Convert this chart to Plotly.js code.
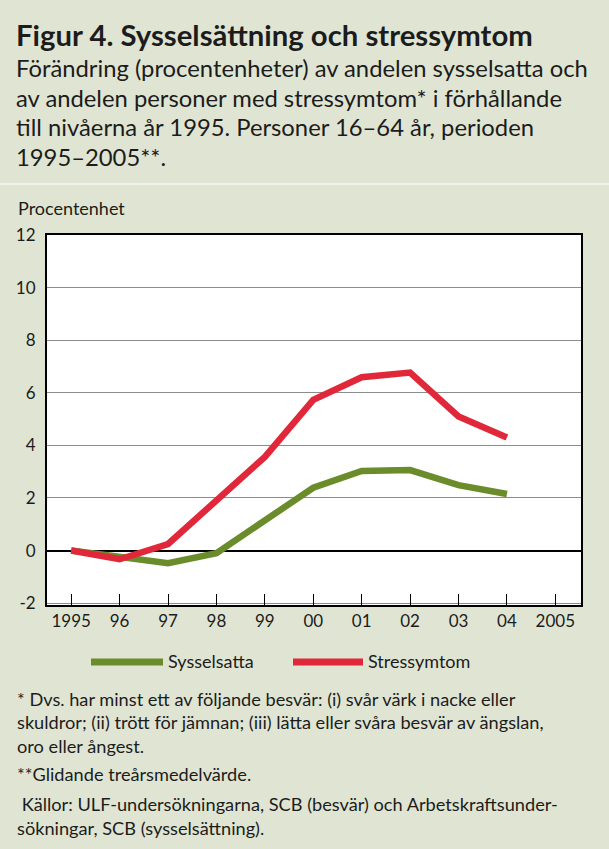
<!DOCTYPE html>
<html>
<head>
<meta charset="utf-8">
<script src="https://cdn.plot.ly/plotly-3.0.1.min.js"></script>
<style>
  html, body { margin: 0; padding: 0; background: #e0e5d3; }
  #chart { width: 609px; height: 849px; }
</style>
</head>
<body>
<div id="chart"></div>
<script>
// ---- Data ----
const years = [1995, 1996, 1997, 1998, 1999, 2000, 2001, 2002, 2003, 2004];
const sysselsatta = [0, -0.23, -0.48, -0.1, 1.16, 2.39, 3.03, 3.06, 2.49, 2.15];
const stressymtom = [0, -0.33, 0.25, 1.92, 3.56, 5.73, 6.59, 6.77, 5.1, 4.3];
const seriesNames = ["Sysselsatta", "Stressymtom"];
const xTickVals = [1995, 1996, 1997, 1998, 1999, 2000, 2001, 2002, 2003, 2004, 2005];
const xTickText = ["1995", "96", "97", "98", "99", "00", "01", "02", "03", "04", "2005"];
const yTickVals = [-2, 0, 2, 4, 6, 8, 10, 12];
const yTickText = ["-2", "0", "2", "4", "6", "8", "10", "12"];

const titleText = "Figur 4. Sysselsättning och stressymtom";
const subtitleLines = [
  "Förändring (procentenheter) av andelen sysselsatta och",
  "av andelen personer med stressymtom* i förhållande",
  "till nivåerna år 1995. Personer 16–64 år, perioden",
  "1995–2005**."
];
const yAxisLabel = "Procentenhet";
const footnoteLines = [
  "* Dvs. har minst ett av följande besvär: (i) svår värk i nacke eller",
  "skuldror; (ii) trött för jämnan; (iii) lätta eller svåra besvär av ängslan,",
  "oro eller ångest.",
  "**Glidande treårsmedelvärde.",
  " Källor: ULF-undersökningarna, SCB (besvär) och Arbetskraftsunder-",
  "sökningar, SCB (sysselsättning)."
];

// ---- Geometry helpers ----
const W = 609, H = 849;
const M = { l: 47, r: 28, t: 235, b: 244 };
const PW = W - M.l - M.r, PH = H - M.t - M.b;
const px = x => (x - M.l) / PW;
const py = y => (H - M.b - y) / PH;

const green = "#6a8c2a";
const red = "#e0283a";
const FONT = "Lato, 'Open Sans', sans-serif";
const textColor = "#1c1c1c";

const traces = [
  { x: years, y: sysselsatta, name: seriesNames[0], type: "scatter", mode: "lines",
    line: { color: green, width: 6.5 }, showlegend: false, hoverinfo: "skip" },
  { x: years, y: stressymtom, name: seriesNames[1], type: "scatter", mode: "lines",
    line: { color: red, width: 6.5 }, showlegend: false, hoverinfo: "skip" }
];

const annotations = [];
function txt(text, x, y, size, opts) {
  annotations.push(Object.assign({
    text: text, xref: "paper", yref: "paper", x: px(x), y: py(y),
    xanchor: "left", yanchor: "middle", showarrow: false,
    font: { family: FONT, size: size, color: textColor }
  }, opts || {}));
}
txt("<b>" + titleText + "</b>", 14, 34, 29.3);
const subY = [68, 98, 127, 157];
subtitleLines.forEach((s, i) => txt(s, 14, subY[i], 23.8));
txt(yAxisLabel, 16, 208, 18);
const footY = [699, 722, 746, 774, 804, 828];
footnoteLines.forEach((s, i) => txt(s, 15, footY[i], 18.2));
// legend labels
txt(seriesNames[0], 166, 661, 18);
txt(seriesNames[1], 366, 661, 18);

const shapes = [
  // separator under heading
  { type: "line", xref: "paper", yref: "paper", x0: px(0), x1: px(W), y0: py(184), y1: py(184),
    line: { color: "#f1f3ea", width: 2 } },
  // legend lines
  { type: "line", xref: "paper", yref: "paper", x0: px(91), x1: px(163), y0: py(662), y1: py(662),
    line: { color: green, width: 7 } },
  { type: "line", xref: "paper", yref: "paper", x0: px(293), x1: px(363), y0: py(662), y1: py(662),
    line: { color: red, width: 7 } }
];

const layout = {
  width: W, height: H,
  margin: M,
  paper_bgcolor: "#e0e5d3",
  plot_bgcolor: "#ffffff",
  showlegend: false,
  font: { family: FONT, color: textColor },
  xaxis: {
    range: [1994.5, 2005.53],
    tickvals: xTickVals, ticktext: xTickText,
    ticks: "inside", ticklen: 11, tickwidth: 1, tickcolor: "#000",
    showgrid: false, zeroline: false,
    showline: true, linecolor: "#000", linewidth: 2, mirror: true,
    tickfont: { family: FONT, size: 17, color: textColor }
  },
  yaxis: {
    range: [-2.07, 12],
    tickvals: yTickVals, ticktext: yTickText,
    ticks: "", showgrid: true, gridcolor: "#8c8c8c", gridwidth: 1,
    zeroline: true, zerolinecolor: "#000", zerolinewidth: 2,
    showline: true, linecolor: "#000", linewidth: 2, mirror: true,
    tickfont: { family: FONT, size: 17, color: textColor },
    ticklabelstandoff: 6
  },
  annotations: annotations,
  shapes: shapes
};

Plotly.newPlot("chart", traces, layout, { staticPlot: true, displayModeBar: false });
</script>
</body>
</html>
